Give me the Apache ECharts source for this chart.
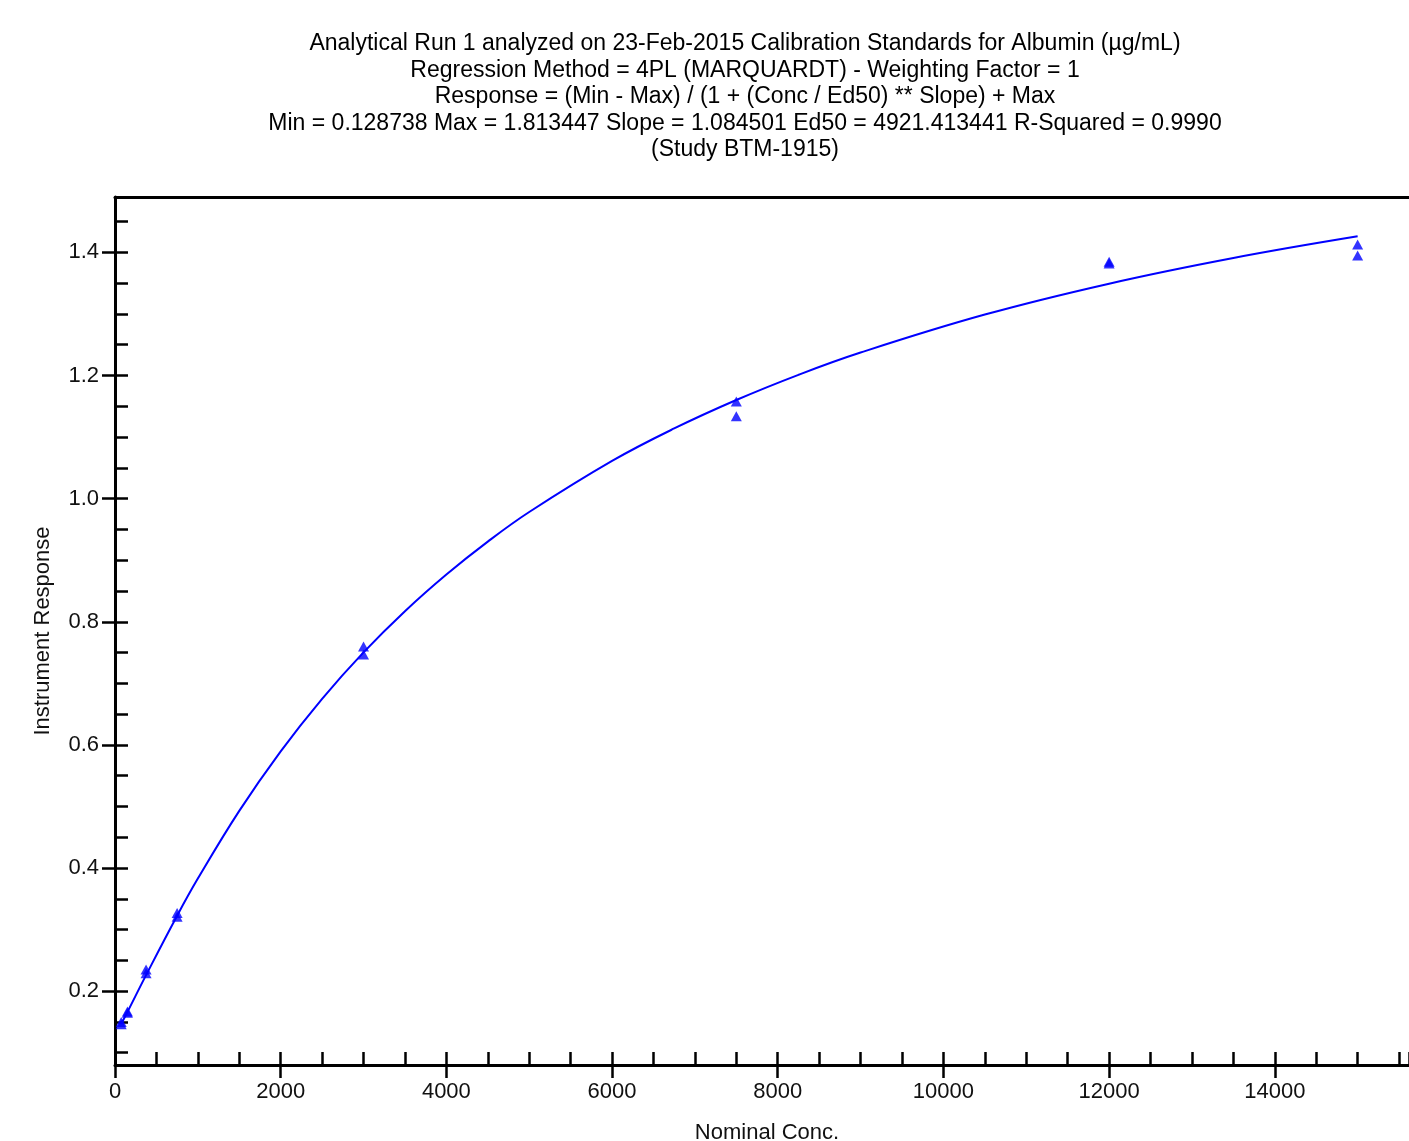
<!DOCTYPE html>
<html>
<head>
<meta charset="utf-8">
<script src="https://cdn.jsdelivr.net/npm/echarts@6/dist/echarts.min.js"></script>
<style>
html,body{margin:0;padding:0;background:#fff;}
#chart{width:1409px;height:1141px;}
</style>
</head>
<body>
<div id="chart"></div>
<script>
// Title lines
var titleLines = [
  'Analytical Run 1 analyzed on 23-Feb-2015 Calibration Standards for Albumin (\u00b5g/mL)',
  'Regression Method = 4PL (MARQUARDT) - Weighting Factor = 1',
  'Response = (Min - Max) / (1 + (Conc / Ed50) ** Slope) + Max',
  'Min = 0.128738 Max = 1.813447 Slope = 1.084501 Ed50 = 4921.413441 R-Squared = 0.9990',
  '(Study BTM-1915)'
];
var xAxisName = 'Nominal Conc.';
var yAxisName = 'Instrument Response';

// Calibration standards (nominal conc.) and observed responses (two replicates)
var stdConc = [75, 150, 375, 750, 3000, 7500, 12000, 15000];
var rep1 = [0.150, 0.167, 0.235, 0.327, 0.760, 1.158, 1.385, 1.413];
var rep2 = [0.146, 0.165, 0.229, 0.321, 0.747, 1.134, 1.382, 1.395];

// Fitted curve
var curveConc = [75, 150, 375, 750, 1000, 1500, 2000, 2500, 3000, 3500, 4000, 4500, 5000, 6000, 6750, 7500, 8250, 9000, 10500, 12000, 13500, 15000];
var curveResp = [0.1466, 0.1661, 0.2260, 0.3225, 0.3828, 0.4928, 0.5896, 0.6749, 0.7503, 0.8172, 0.8768, 0.9302, 0.9783, 1.0613, 1.1140, 1.1602, 1.2011, 1.2373, 1.2990, 1.3492, 1.3909, 1.4261];

// Axis ranges and ticks
var XMIN = 0, XMAX = 15620, XSTEP = 2000;
var YMIN = 0.08, YMAX = 1.49;
var YMAJ_MIN = 0.2, YMAJ_MAX = 1.4, YMAJ_STEP = 0.2;
var YMIN_MIN = 0.1, YMIN_MAX = 1.45, YMIN_STEP = 0.05;

var pts = [];
for (var i = 0; i < stdConc.length; i++) {
  pts.push([stdConc[i], rep1[i]]);
  pts.push([stdConc[i], rep2[i]]);
}
var curve = curveConc.map(function (c, i) { return [c, curveResp[i]]; });

var FONT = 'Liberation Sans, Arial, Helvetica, sans-serif';
var W = 1409, H = 1141;
var GT = 197, GB = 1065, GL = 115;          // main plot box (pixels)
var k = (GB - GT) / (YMAX - YMIN);           // px per unit
function py(v) { return GT + (YMAX - v) * k; }

var titleY = [44, 71, 97, 124, 150];
var graphics = titleLines.map(function (t, i) {
  return {
    type: 'text', x: 745, y: titleY[i], silent: true,
    style: { text: t, fill: '#000', font: '23px ' + FONT, align: 'center', verticalAlign: 'middle' }
  };
});

var hiddenX = function (g) {
  return { type: 'value', gridIndex: g, min: XMIN, max: XMAX, show: false };
};

var chart = echarts.init(document.getElementById('chart'), null, { renderer: 'canvas' });
chart.setOption({
  animation: false,
  backgroundColor: '#fff',
  graphic: graphics,
  grid: [
    { left: GL, right: 0, top: GT, bottom: H - GB, containLabel: false, outerBoundsMode: 'none' },
    { left: GL, right: 0, top: py(YMAJ_MAX), bottom: H - py(YMAJ_MIN), containLabel: false, outerBoundsMode: 'none' },
    { left: GL, right: 0, top: py(YMIN_MAX), bottom: H - py(YMIN_MIN), containLabel: false, outerBoundsMode: 'none' }
  ],
  xAxis: [
    {
      type: 'value', gridIndex: 0, min: XMIN, max: XMAX, interval: XSTEP, position: 'bottom',
      name: xAxisName, nameLocation: 'middle', nameGap: 57,
      nameTextStyle: { fontSize: 22, fontFamily: FONT, color: '#111', padding: [0, 0, 0, 10] },
      axisLine: { show: true, onZero: false, lineStyle: { color: '#000', width: 3 } },
      axisTick: { show: true, inside: false, length: 13, lineStyle: { color: '#000', width: 2.5 } },
      minorTick: { show: false },
      axisLabel: { fontSize: 22, fontFamily: FONT, color: '#111', margin: 16, showMaxLabel: false,
        formatter: function (v) { return String(v); } },
      splitLine: { show: false }
    },
    {
      type: 'value', gridIndex: 0, min: XMIN, max: XMAX, interval: XSTEP, position: 'bottom',
      axisLine: { show: false },
      axisTick: { show: true, inside: true, length: 13, lineStyle: { color: '#000', width: 2.5 } },
      minorTick: { show: true, splitNumber: 4, length: 13, lineStyle: { color: '#000', width: 2.5 } },
      axisLabel: { show: false },
      splitLine: { show: false }
    },
    {
      type: 'value', gridIndex: 0, min: XMIN, max: XMAX, position: 'top',
      axisLine: { show: true, onZero: false, lineStyle: { color: '#000', width: 3 } },
      axisTick: { show: false }, axisLabel: { show: false }, splitLine: { show: false }
    },
    hiddenX(1),
    hiddenX(2)
  ],
  yAxis: [
    {
      type: 'value', gridIndex: 0, min: YMIN, max: YMAX, position: 'left',
      name: yAxisName, nameLocation: 'middle', nameGap: 61, nameRotate: 90,
      nameTextStyle: { fontSize: 22, fontFamily: FONT, color: '#111' },
      axisLine: { show: true, onZero: false, lineStyle: { color: '#000', width: 3 } },
      axisTick: { show: false },
      axisLabel: { show: false },
      splitLine: { show: false }
    },
    {
      type: 'value', gridIndex: 1, min: YMAJ_MIN, max: YMAJ_MAX, interval: YMAJ_STEP, position: 'left',
      axisLine: { show: false },
      axisTick: { show: true, inside: false, length: 13, lineStyle: { color: '#000', width: 2.5 } },
      axisLabel: {
        fontSize: 22, fontFamily: FONT, color: '#111', margin: 16,
        formatter: function (v) { return v.toFixed(1); }
      },
      splitLine: { show: false }
    },
    {
      type: 'value', gridIndex: 2, min: YMIN_MIN, max: YMIN_MAX, interval: YMIN_STEP, position: 'left',
      axisLine: { show: false },
      axisTick: { show: true, inside: true, length: 13, lineStyle: { color: '#000', width: 2.5 } },
      axisLabel: { show: false },
      splitLine: { show: false }
    }
  ],
  series: [
    {
      type: 'line', name: 'fit', data: curve, xAxisIndex: 0, yAxisIndex: 0,
      smooth: 0.4, showSymbol: false, symbol: 'none',
      lineStyle: { color: '#0000ff', width: 2 }, z: 3
    },
    {
      type: 'scatter', name: 'standards', data: pts, xAxisIndex: 0, yAxisIndex: 0,
      symbol: 'triangle', symbolSize: [11, 10],
      itemStyle: { color: '#0000ff' }, z: 4
    }
  ]
});
</script>
</body>
</html>
